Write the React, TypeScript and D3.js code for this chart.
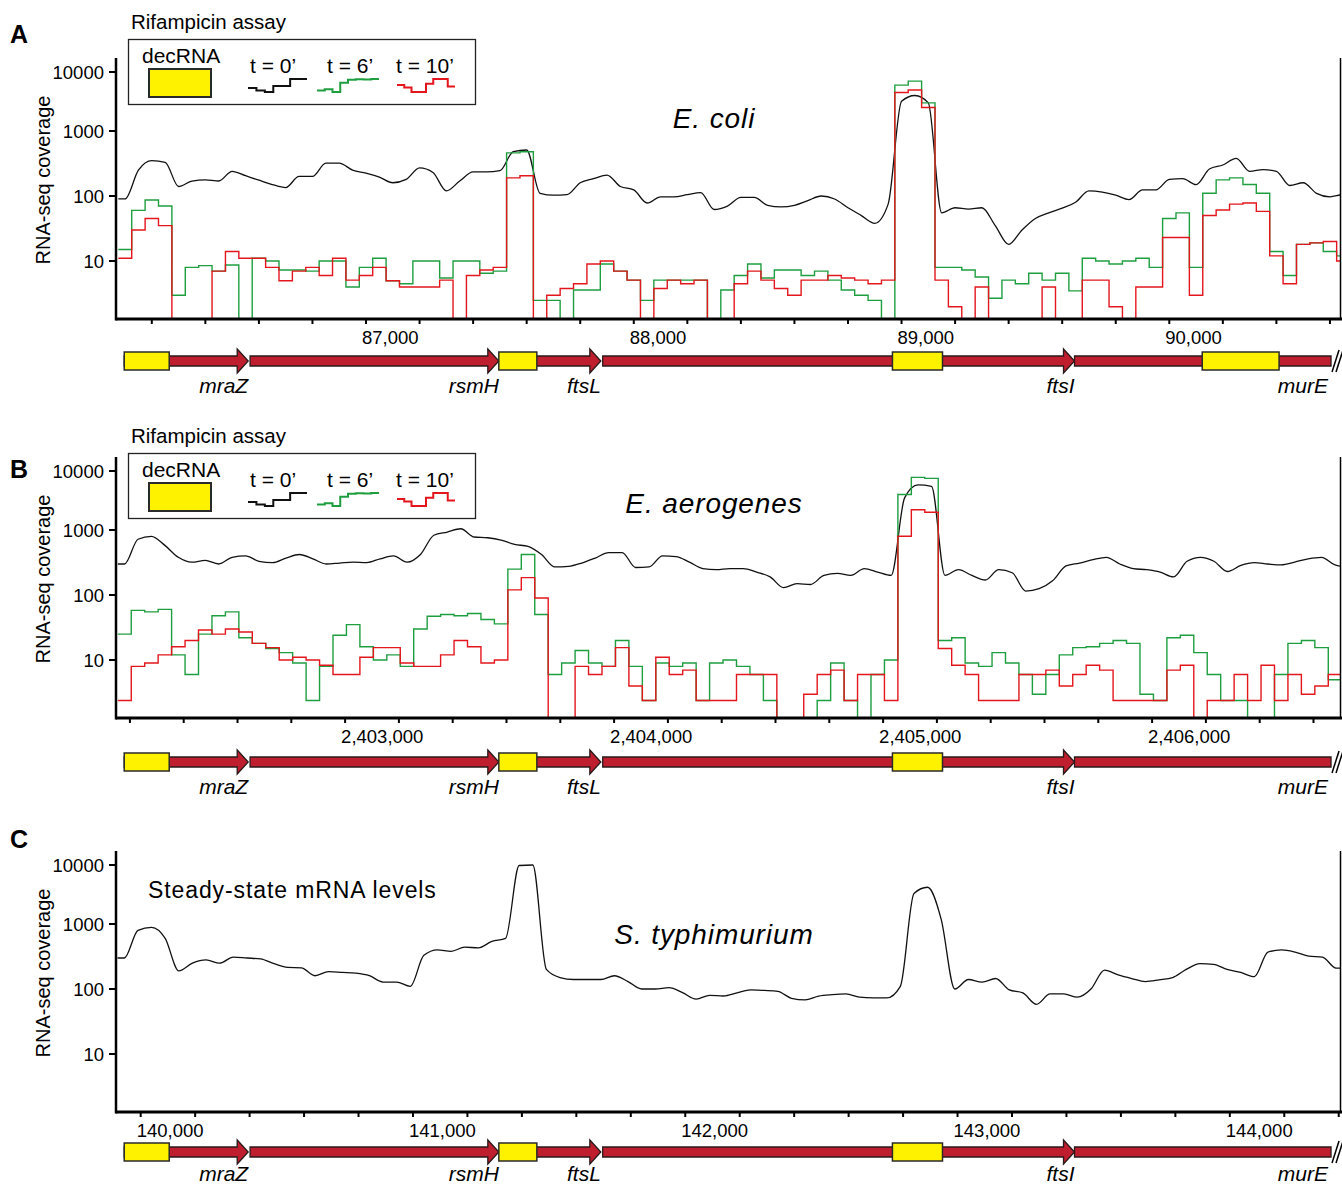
import React, { useEffect, useRef } from 'react'
import * as d3 from 'd3'

const W = 1342
const H = 1186
const FONT = "'Liberation Sans', Arial, Helvetica, sans-serif"

// coverage is sampled every 50 bp, starting at the given genome position
const BP_STEP = 50

// panel A, E. coli
const startA = 86075
const blackA = [90, 250, 350, 330, 140, 170, 177, 170, 240, 205, 175, 150, 135, 200, 200, 320, 320, 250, 225, 195,
  160, 180, 270, 230, 120, 170, 235, 235, 245, 480, 510, 110, 103, 105, 160, 185, 210, 140, 124, 78,
  97, 97, 105, 113, 62, 70, 95, 95, 72, 68, 72, 85, 100, 90, 66, 50, 38, 75, 3200, 4000,
  3000, 55, 66, 63, 66, 35, 18, 30, 45, 55, 65, 80, 120, 115, 103, 88, 124, 124, 180, 185,
  150, 260, 300, 380, 240, 255, 240, 145, 160, 110, 97, 105]
const greenA = [15, 60, 87, 70, 3, 8, 8.5, 7, 8.7, 0, 11, 10, 7.3, 7.3, 7, 10, 10, 4, 8, 11,
  5, 4.5, 10, 10, 5.5, 10, 10, 6.5, 7, 460, 480, 2.5, 2.5, 0, 3.6, 3.6, 9, 7, 5.1, 2.5,
  5.1, 5.1, 5.1, 5.1, 0, 3.6, 6, 9, 5.5, 7.3, 7.3, 6, 7, 5.1, 3.6, 3, 2.5, 0, 6000, 7000,
  3000, 8, 8, 7.3, 5.7, 2.7, 5.1, 4.5, 6.5, 5.1, 6.5, 3.5, 11, 10, 9, 10, 11, 8, 45, 55,
  8, 110, 177, 190, 150, 110, 14, 6, 18, 19, 14, 12]
const redA = [11, 30, 45, 35, 0, 0, 0, 7, 14, 11, 11, 8, 5, 7, 8, 6, 11, 5.1, 6, 8,
  5, 4, 4, 4, 5.1, 0, 6, 7.3, 8, 190, 205, 0, 3, 3.8, 4.5, 9, 10, 7, 5.1, 0,
  3.8, 5.1, 4.5, 5.1, 0, 0, 4.5, 7, 5.1, 3.8, 3, 5.1, 5.1, 6, 5.5, 5.1, 4.5, 5.1, 4500, 4950,
  2500, 5.1, 2, 0, 4, 0, 0, 0, 0, 4, 0, 0, 5.1, 5.1, 2, 0, 4, 4, 23, 23,
  3, 50, 61, 75, 78, 58, 12, 4.5, 18, 19, 20, 10]

// panel B, E. aerogenes
const startB = 2402155
const blackB = [300, 720, 800, 580, 380, 320, 340, 300, 380, 400, 330, 315, 370, 420, 360, 300, 310, 320, 315, 360,
  400, 320, 420, 830, 930, 1050, 780, 760, 700, 600, 560, 420, 270, 275, 310, 370, 450, 450, 265, 270,
  400, 390, 320, 255, 245, 255, 255, 225, 190, 130, 150, 145, 200, 215, 200, 255, 225, 200, 3500, 5800,
  5500, 200, 245, 200, 170, 245, 220, 115, 125, 165, 280, 310, 350, 380, 300, 255, 245, 225, 190, 330,
  380, 330, 230, 285, 315, 300, 290, 320, 360, 380, 290, 270]
const greenB = [25, 58, 55, 60, 12, 6, 25, 48, 55, 22, 18, 15, 13, 9, 2.4, 8, 24, 35, 16, 10,
  12, 8, 30, 47, 50, 48, 52, 42, 36, 250, 420, 50, 6, 9, 14, 9, 8, 20, 8, 2.4,
  9, 8, 9, 2.4, 9, 10, 8, 6, 2.4, 0, 0, 0, 2.4, 9, 2.4, 0, 6, 10, 4000, 7800,
  7500, 20, 22, 9, 8, 13, 9, 6, 3, 6, 12, 15.5, 16, 18, 20, 18, 3, 2.4, 22, 24,
  13, 6, 2.4, 2.4, 0, 0, 6, 18, 20, 15.5, 5, 6]
const redB = [2.4, 8, 9, 12, 16, 20, 29, 25, 30, 27, 18, 15.5, 10, 11, 10, 8.3, 6, 6, 11, 15.5,
  15.5, 9, 8, 8, 12, 20, 16, 9, 10, 120, 185, 90, 0, 0, 8, 6, 8, 15.5, 4, 2.4,
  11, 6, 7, 2.4, 2.4, 2.4, 6, 6, 6, 0, 0, 3, 6, 7, 2.4, 6, 6, 2.4, 800, 2200,
  2000, 15, 8.3, 6, 2.4, 2.4, 2.4, 6, 6, 7, 4, 6, 8.3, 7, 2.4, 2.4, 2.4, 2.4, 7, 8.3,
  0, 2.4, 2.4, 6, 2.4, 8.3, 2.4, 6, 3, 4, 6, 2.4]

// panel C, S. typhimurium
const startC = 139915
const blackC = [300, 800, 890, 600, 190, 250, 280, 250, 310, 300, 290, 245, 215, 212, 160, 185, 180, 175, 160, 128,
  128, 110, 330, 400, 380, 440, 430, 540, 600, 9800, 10300, 200, 150, 140, 140, 140, 160, 130, 100, 100,
  105, 88, 70, 80, 78, 87, 97, 95, 92, 72, 68, 78, 82, 84, 75, 73, 73, 110, 3300, 4200,
  1200, 100, 140, 128, 145, 97, 87, 58, 84, 84, 75, 100, 195, 165, 145, 130, 138, 150, 200, 245,
  240, 200, 180, 155, 370, 400, 370, 320, 310, 210]

const labelsA = [87000, 88000, 89000, 90000]
const labelsB = [2403000, 2404000, 2405000, 2406000]
const labelsC = [140000, 141000, 142000, 143000, 144000]
const yTicks = [10, 100, 1000, 10000]

// gene map (drawn in E. coli coordinates, same schematic under every panel)
const geneNames = ['mraZ', 'rsmH', 'ftsL', 'ftsI', 'murE']
const geneStart = [86097, 86567, 87500, 87884, 89646]
const geneEnd = [86560, 87496, 87877, 89646, 90604]
const decStart = [86097, 87496, 88966, 90123]
const decEnd = [86265, 87638, 89153, 90410]

const timeLabels = ['t = 0\u2019', 't = 6\u2019', 't = 10\u2019']
const colors = ['#111111', '#1f9e40', '#e3161d']

const Y_MIN = 1.3

function App () {
  const ref = useRef<SVGSVGElement>(null)

  useEffect(() => {
    const svg = d3.select(ref.current)
    svg.selectAll('*').remove()

    const xA = d3.scaleLinear().domain([86070, 90645]).range([117, 1342])
    const xB = d3.scaleLinear().domain([2402152, 2406706]).range([117, 1342])
    const xC = d3.scaleLinear().domain([139913, 144412]).range([117, 1342])

    const panels = [
      { key: 'A', off: 0, trackOff: 0, labelDy: 32, legendOff: 0, x: xA, start: startA, series: [blackA, greenA, redA], labels: labelsA, species: 'E. coli', speciesY: 128, letterY: 43, decCount: 4, legend: true },
      { key: 'B', off: 399, trackOff: 401, labelDy: 32, legendOff: 414, x: xB, start: startB, series: [blackB, greenB, redB], labels: labelsB, species: 'E. aerogenes', speciesY: 513, letterY: 478, decCount: 3, legend: true },
      { key: 'C', off: 793, trackOff: 791, labelDy: 29, legendOff: 0, x: xC, start: startC, series: [blackC], labels: labelsC, species: 'S. typhimurium', speciesY: 944, letterY: 848, decCount: 3, legend: false }
    ]

    const fmt = d3.format(',')

    panels.forEach((p) => {
      const g = svg.append('g')
      const axisY = 319 + p.off
      const top = 58 + p.off
      const y = d3.scaleLog()
        .domain([Y_MIN, 10, 100, 1000, 10000])
        .range([319, 261, 196, 131, 72].map((v) => v + p.off))
        .clamp(true)

      const clipId = 'clip' + p.key
      g.append('clipPath').attr('id', clipId)
        .append('rect').attr('x', 117).attr('y', top).attr('width', 1223).attr('height', axisY - top)

      // coverage lines: t=0 drawn as a continuous trace, the sparse ones as steps
      p.series.forEach((vals, si) => {
        let pts: [number, number][]
        let curve: d3.CurveFactory
        if (si === 0) {
          pts = vals.map((v, i) => [p.start + (i + 0.5) * BP_STEP, v])
          pts.unshift([p.start, vals[0]])
          pts.push([p.start + vals.length * BP_STEP, vals[vals.length - 1]])
          curve = d3.curveMonotoneX
        } else {
          pts = vals.map((v, i) => [p.start + i * BP_STEP, v])
          pts.push([p.start + vals.length * BP_STEP, vals[vals.length - 1]])
          curve = d3.curveStepAfter
        }
        const line = d3.line<[number, number]>()
          .x((d) => p.x(d[0]))
          .y((d) => y(Math.max(d[1], Y_MIN)))
          .curve(curve)
        g.append('path')
          .attr('clip-path', 'url(#' + clipId + ')')
          .attr('d', line(pts))
          .attr('fill', 'none')
          .attr('stroke', colors[si])
          .attr('stroke-width', si === 0 ? 1.3 : 1.4)
      })

      // y axis
      g.append('line').attr('x1', 116).attr('x2', 116).attr('y1', top).attr('y2', axisY + 1.5)
        .attr('stroke', '#000').attr('stroke-width', 2.5)
      yTicks.forEach((t) => {
        g.append('line').attr('x1', 109).attr('x2', 116).attr('y1', y(t)).attr('y2', y(t))
          .attr('stroke', '#000').attr('stroke-width', 2)
        g.append('text').attr('x', 104).attr('y', y(t) + 6.5)
          .attr('text-anchor', 'end').attr('font-size', 18.5).attr('font-family', FONT)
          .text(String(t))
      })
      g.append('text')
        .attr('transform', 'translate(50,' + (180 + p.off) + ') rotate(-90)')
        .attr('text-anchor', 'middle').attr('font-size', 20).attr('font-family', FONT)
        .text('RNA-seq coverage')

      // right border
      g.append('line').attr('x1', 1340.5).attr('x2', 1340.5).attr('y1', top).attr('y2', axisY)
        .attr('stroke', '#000').attr('stroke-width', 1.5)

      // x axis
      g.append('line').attr('x1', 116).attr('x2', 1342).attr('y1', axisY).attr('y2', axisY)
        .attr('stroke', '#000').attr('stroke-width', 3)
      const [d0, d1] = p.x.domain()
      const ticks = d3.range(Math.ceil(d0 / 200) * 200, d1, 200)
      ticks.forEach((t) => {
        g.append('line').attr('x1', p.x(t)).attr('x2', p.x(t)).attr('y1', axisY).attr('y2', axisY + 5)
          .attr('stroke', '#000').attr('stroke-width', 2)
      })
      p.labels.forEach((t) => {
        g.append('text').attr('x', p.x(t) - 4).attr('y', axisY + 24.5)
          .attr('font-size', 18.5).attr('font-family', FONT)
          .text(fmt(t))
      })

      // species + panel letter
      g.append('text').attr('x', 714).attr('y', p.speciesY)
        .attr('text-anchor', 'middle').attr('font-size', 28).attr('font-style', 'italic')
        .attr('font-family', FONT).attr('letter-spacing', 0.9)
        .text(p.species)
      g.append('text').attr('x', 10).attr('y', p.letterY)
        .attr('font-size', 25).attr('font-weight', 'bold').attr('font-family', FONT)
        .text(p.key)

      // gene track
      const c = 361 + p.trackOff
      geneNames.forEach((name, i) => {
        const x0 = xA(geneStart[i])
        const x1 = xA(geneEnd[i])
        const hasHead = i < geneNames.length - 1
        const head = hasHead ? 11 : 0
        const pts = hasHead
          ? [[x0, c - 5], [x1 - head, c - 5], [x1 - head, c - 12], [x1, c], [x1 - head, c + 12], [x1 - head, c + 5], [x0, c + 5]]
          : [[x0, c - 5], [x1, c - 5], [x1, c + 5], [x0, c + 5]]
        g.append('path')
          .attr('d', 'M' + pts.map((q) => q.join(',')).join('L') + 'Z')
          .attr('fill', '#bf1e2e').attr('stroke', '#2a1a1a').attr('stroke-width', 1.3)
        g.append('text').attr('x', hasHead ? x1 : x1 - 3).attr('y', c + p.labelDy)
          .attr('text-anchor', 'end').attr('font-size', 21).attr('font-style', 'italic')
          .attr('font-family', FONT)
          .text(name)
      })
      for (let i = 0; i < p.decCount; i++) {
        g.append('rect')
          .attr('x', xA(decStart[i])).attr('y', c - 9)
          .attr('width', xA(decEnd[i]) - xA(decStart[i])).attr('height', 18)
          .attr('fill', '#fff200').attr('stroke', '#2a2a2a').attr('stroke-width', 1.5)
      }
      // break mark
      const bx = xA(geneEnd[geneEnd.length - 1])
      g.append('path')
        .attr('d', 'M' + (bx + 1) + ',' + (c + 11) + 'L' + (bx + 8) + ',' + (c - 11))
        .attr('stroke', '#000').attr('stroke-width', 1.5)
      g.append('path')
        .attr('d', 'M' + (bx + 5) + ',' + (c + 11) + 'L' + (bx + 12) + ',' + (c - 11))
        .attr('stroke', '#000').attr('stroke-width', 1.5)

      // legend
      if (p.legend) {
        const lo = p.legendOff
        g.append('text').attr('x', 131).attr('y', 29 + lo)
          .attr('font-size', 20.5).attr('font-family', FONT).text('Rifampicin assay')
        g.append('rect').attr('x', 128.5).attr('y', 39.5 + lo).attr('width', 347).attr('height', 65)
          .attr('fill', '#fff').attr('stroke', '#222').attr('stroke-width', 1.3)
        g.append('text').attr('x', 142).attr('y', 63 + lo)
          .attr('font-size', 21).attr('font-family', FONT).text('decRNA')
        g.append('rect').attr('x', 149).attr('y', 69 + lo).attr('width', 62).attr('height', 28)
          .attr('fill', '#fff200').attr('stroke', '#2a2a2a').attr('stroke-width', 2)
        const labelX = [250, 327, 396]
        const swatch = [[248, 307], [317, 379], [397, 455]]
        const samples = [blackA.slice(10, 17), greenB.slice(19, 27), redB.slice(14, 22)]
        timeLabels.forEach((t, i) => {
          g.append('text').attr('x', labelX[i]).attr('y', 73 + lo)
            .attr('font-size', 21).attr('font-family', FONT).text(t)
          const s = samples[i]
          const sx = d3.scaleLinear().domain([0, s.length]).range(swatch[i])
          const sy = d3.scaleLog().domain(d3.extent(s) as [number, number]).range([92 + lo, 79 + lo])
          const sp: [number, number][] = s.map((v, j) => [j, v])
          sp.push([s.length, s[s.length - 1]])
          const sl = d3.line<[number, number]>().x((d) => sx(d[0])).y((d) => sy(d[1])).curve(d3.curveStepAfter)
          g.append('path').attr('d', sl(sp)).attr('fill', 'none')
            .attr('stroke', colors[i]).attr('stroke-width', 2)
        })
      }
    })

    svg.append('text').attr('x', 148).attr('y', 898)
      .attr('font-size', 23).attr('font-family', FONT).attr('letter-spacing', 0.9)
      .text('Steady-state mRNA levels')
  }, [])

  return (
    <svg ref={ref} width={W} height={H}
      style={{ position: 'absolute', left: 0, top: 0, background: '#fff', display: 'block' }} />
  )
}

export default App
